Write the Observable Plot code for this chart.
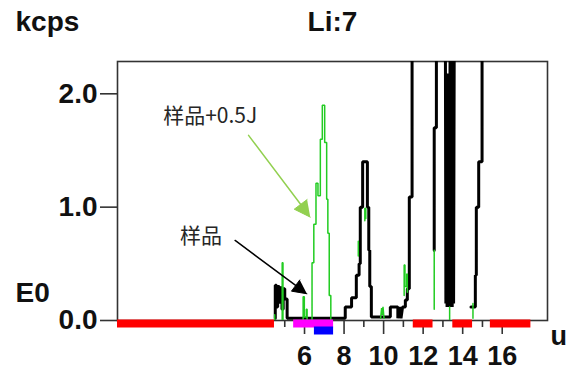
<!DOCTYPE html>
<html><head><meta charset="utf-8">
<script src="https://cdn.jsdelivr.net/npm/d3@7"></script>
<script src="https://cdn.jsdelivr.net/npm/@observablehq/plot@0.6"></script>
<style>body{margin:0;background:#fff}</style>
</head><body><div id="chart"></div>
<script>
// ---- data (mass u vs kcps) ----
const blackX = [4.52,4.52,4.58,4.58,4.64,4.64,4.72,4.72,4.78,4.78,4.86,4.86,4.92,4.92,5.0,5.0,5.12,5.12,
  8.06,8.06,8.38,8.38,8.62,8.62,8.76,8.76,8.82,8.82,8.94,8.94,9.18,9.18,9.25,9.25,9.3,9.3,9.38,9.38,
  10.34,10.34,10.72,10.72,10.8,10.88,10.96,11.1,11.1,11.2,11.2,11.3,11.3,11.44,11.44,null,
  12.56,12.56,12.67,12.67,null,
  13.12,13.15,13.18,13.21,13.24,13.27,13.3,13.33,13.37,13.4,13.44,13.47,13.51,13.54,13.58,null,
  14.42,14.64,14.64,14.69,14.69,14.81,14.81,14.98,14.98];
const blackY = [0.02,0.31,0.31,0.12,0.12,0.3,0.3,0.16,0.16,0.29,0.29,0.1,0.1,0.28,0.28,0.19,0.19,0.02,
  0.02,0.12,0.12,0.2,0.2,0.4,0.4,0.5,0.5,1.0,1.0,1.4,1.4,1.0,1.0,0.62,0.62,0.3,0.3,0.03,
  0.03,0.12,0.12,0.02,0.12,0.02,0.12,0.12,0.18,0.18,0.28,0.28,1.09,1.09,3.0,null,
  0.62,1.7,1.7,3.0,null,
  3.0,0.15,2.18,0.12,2.18,0.12,2.18,0.12,3.0,0.12,3.0,0.12,3.0,0.15,3.0,null,
  0.12,0.12,0.4,0.4,1.0,1.0,1.4,1.4,3.0];

const greenX = [4.49,4.49,null,
  4.87,4.87,4.91,4.91,null,
  5.93,5.93,5.99,5.99,6.09,6.09,6.13,6.13,null,
  6.38,6.38,6.47,6.47,6.58,6.58,6.68,6.68,6.8,6.8,6.9,6.9,7.02,7.02,7.12,7.12,7.18,7.18,7.25,7.25,7.33,7.33,null,
  8.72,8.72,null,
  9.05,9.05,9.1,9.1,null,
  9.85,9.9,9.93,9.97,10.02,null,
  11.04,11.04,11.08,11.08,11.17,11.17,11.2,11.2,null,
  12.56,12.56,null,
  13.34,13.34,null,
  14.52,14.52];
const greenY = [0,0.05,null,
  0,0.51,0.51,0,null,
  0,0.21,0.21,0.03,0.03,0.1,0.1,0,null,
  0,0.51,0.51,0.85,0.85,1.21,1.21,1.1,1.1,1.6,1.6,1.9,1.9,1.57,1.57,1.07,1.07,0.77,0.77,0.22,0.22,0,null,
  0.57,0.7,null,
  0.88,0.99,0.99,0.9,null,
  0.02,0.11,0.05,0.12,0.02,null,
  0.22,0.49,0.49,0.3,0.3,0.41,0.41,0.25,null,
  0.1,0.62,null,
  0,0.12,null,
  0.02,0.15];

// bars under the axis (mass ranges)
const redStart = [-3.46, 11.5, 13.5, 15.4];
const redEnd   = [4.48, 12.5, 14.5, 17.45];
const magentaRange = [5.45, 7.47];
const blueRange = [6.5, 7.47];

const yTicks = [0, 1, 2];
const xMajorTicks = [6, 8, 10, 12, 14, 16];
const xMinorTicks = [5, 7, 9, 11, 13, 15];

// annotations
const labelGreen = {text: "样品+0.5J", x: 1.23, y: 1.80};
const labelBlack = {text: "样品", x: 0.76, y: 0.74};
const greenArrowShaft = [[3.17, 1.633], [5.80, 1.025]];
const greenArrowHead = [[6.29, 0.912], [5.48, 0.982], [6.13, 1.067]];
const blackArrowShaft = [[2.49, 0.706], [5.55, 0.309]];
const blackArrowHead = [[6.12, 0.236], [5.34, 0.259], [5.76, 0.358]];

const blackData = blackX.map((x, i) => ({x, y: blackY[i]}));
const greenData = greenX.map((x, i) => ({x, y: greenY[i]}));
const redBars = redStart.map((s, i) => ({s, e: redEnd[i]}));
const toPts = a => a.map(([x, y]) => ({x, y}));

const TXT = "Liberation Sans, Arial, sans-serif";
const CJK = "Noto Sans CJK SC, sans-serif";
const AX = "#333";
const lab = {fontSize: 28, fontWeight: "bold", fill: "#111", lineAnchor: "middle"};

const chart = Plot.plot({
  width: 566, height: 376,
  marginLeft: 117, marginRight: 19, marginTop: 61, marginBottom: 56,
  style: {fontFamily: TXT, background: "#fff"},
  x: {domain: [-3.46, 18.29], axis: null},
  y: {domain: [0, 2.285], axis: null},
  marks: [
    Plot.frame({stroke: AX, strokeWidth: 1.6}),
    Plot.axisY(yTicks, {anchor: "left", tickSize: 17, tickPadding: 3, tickFormat: d3.format(".1f"),
      fontSize: 28, fontWeight: "bold", stroke: AX, strokeWidth: 1.6, fill: "#111", label: null}),
    Plot.axisX(xMajorTicks, {anchor: "bottom", tickSize: 14, tickPadding: 11, tickFormat: d => String(d),
      fontSize: 27, fontWeight: "bold", stroke: AX, strokeWidth: 1.6, fill: "#111", label: null}),
    Plot.axisX(xMinorTicks, {anchor: "bottom", tickSize: 7, tickFormat: () => "", stroke: AX, strokeWidth: 1.6, label: null}),
    Plot.line(blackData, {x: "x", y: "y", stroke: "#000", strokeWidth: 3, strokeLinejoin: "miter", clip: true}),
    Plot.line(greenData, {x: "x", y: "y", stroke: "#22cc22", strokeWidth: 1.5, strokeLinejoin: "miter", clip: true}),
    // bars
    Plot.ruleY(redBars, {y: 0, x1: "s", x2: "e", dy: 3, stroke: "#ff0000", strokeWidth: 8}),
    Plot.ruleY([magentaRange], {y: 0, x1: d => d[0], x2: d => d[1], dy: 3, stroke: "#ff00ff", strokeWidth: 8}),
    Plot.ruleY([blueRange], {y: 0, x1: d => d[0], x2: d => d[1], dy: 10, stroke: "#0000ff", strokeWidth: 8}),
    // annotations
    Plot.line(toPts(greenArrowShaft), {x: "x", y: "y", stroke: "#92d050", strokeWidth: 1.5}),
    Plot.line(toPts(greenArrowHead), {x: "x", y: "y", stroke: "#92d050", fill: "#92d050", strokeWidth: 1}),
    Plot.line(toPts(blackArrowShaft), {x: "x", y: "y", stroke: "#000", strokeWidth: 1.5}),
    Plot.line(toPts(blackArrowHead), {x: "x", y: "y", stroke: "#000", fill: "#000", strokeWidth: 1}),
    Plot.text([labelGreen, labelBlack], {x: "x", y: "y", text: "text", fontFamily: CJK, fontSize: 21, fill: "#262626"}),
    // corner labels
    Plot.text(["kcps"], {text: d => d, frameAnchor: "top-left", dx: -102, dy: -39, textAnchor: "start", ...lab}),
    Plot.text(["Li:7"], {text: d => d, frameAnchor: "top", dx: 0, dy: -39, textAnchor: "middle", ...lab}),
    Plot.text(["E0"], {text: d => d, frameAnchor: "bottom-left", dx: -102, dy: -27, textAnchor: "start", ...lab}),
    Plot.text(["u"], {text: d => d, frameAnchor: "bottom-right", dx: 3, dy: 16, textAnchor: "start", ...lab, fontSize: 27})
  ]
});
document.getElementById("chart").appendChild(chart);
</script>
</body></html>
